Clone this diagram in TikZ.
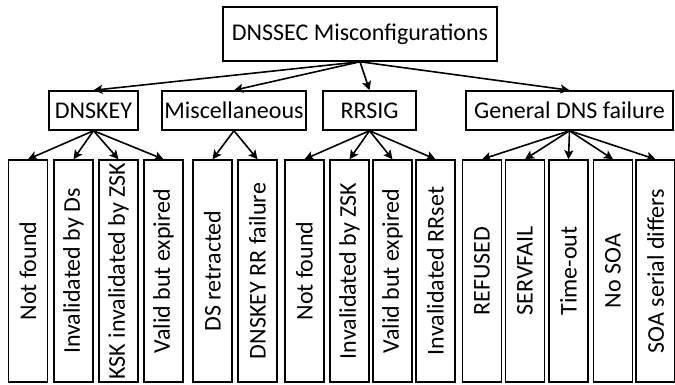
\documentclass[tikz,border=0pt]{standalone}
\usepackage{fontspec}
\setmainfont{Carlito}
\usepackage{tikz}
\usetikzlibrary{
    calc,
    arrows.meta
}
\tikzset{
    catbox/.style={draw, line width=1.5pt, inner sep=0pt, font=\fontsize{24}{28}\selectfont},
    leafbox/.style={draw, line width=1.5pt, inner sep=0pt, rotate=90,
        minimum width=222pt, minimum height=39pt, font=\fontsize{24}{28}\selectfont},
    tree/.style={-{Stealth[length=9pt, width=9pt, inset=2pt]}, line width=1.6pt}
}

\begin{document}
\begin{tikzpicture}[x=1pt,y=-1pt]
        \useasboundingbox (0,0) rectangle (675,385);

        \draw (360,34) node[catbox, minimum width=274pt, minimum height=54pt](root){DNSSEC Misconfigurations};

        \draw (93.5,110.5)  node[catbox, minimum width=89pt,  minimum height=39pt](dnskey){DNSKEY};
        \draw (234,110.5)   node[catbox, minimum width=144pt, minimum height=39pt](misc){Miscellaneous};
        \draw (369.5,110.5) node[catbox, minimum width=93pt,  minimum height=39pt](rrsig){RRSIG};
        \draw (569.5,110.5) node[catbox, minimum width=207pt, minimum height=39pt](general){General DNS failure};

        % DNSKEY
        \draw (28,271)    node[leafbox](k1){Not found};
        \draw (73.5,271)  node[leafbox](k2){Invalidated by Ds};
        \draw (118.5,271) node[leafbox](k3){KSK invalidated by ZSK};
        \draw (163.5,271) node[leafbox](k4){Valid but expired};
        % Miscellaneous
        \draw (212.5,271) node[leafbox](m1){DS retracted};
        \draw (257.5,271) node[leafbox](m2){DNSKEY RR failure};
        % RRSIG
        \draw (304.5,271) node[leafbox](r1){Not found};
        \draw (349.5,271) node[leafbox](r2){Invalidated by ZSK};
        \draw (392.5,271) node[leafbox](r3){Valid but expired};
        \draw (435.5,271) node[leafbox](r4){Invalidated RRset};
        % General DNS failure
        \draw (482,271)   node[leafbox](g1){REFUSED};
        \draw (525,271)   node[leafbox](g2){SERVFAIL};
        \draw (568.5,271) node[leafbox](g3){Time-out};
        \draw (613,271)   node[leafbox](g4){No SOA};
        \draw (655.5,271) node[leafbox](g5){SOA serial differs};

        \foreach \c in {dnskey,misc,rrsig,general}
            \draw[tree] (root.south) to (\c.north);

        \foreach \l in {k1,k2,k3,k4}
            \draw[tree] (dnskey.south) to (\l.east);
        \foreach \l in {m1,m2}
            \draw[tree] (misc.south) to (\l.east);
        \foreach \l in {r1,r2,r3,r4}
            \draw[tree] (rrsig.south) to (\l.east);
        \foreach \l in {g1,g2,g3,g4,g5}
            \draw[tree] (general.south) to (\l.east);
    \end{tikzpicture}
\end{document}
